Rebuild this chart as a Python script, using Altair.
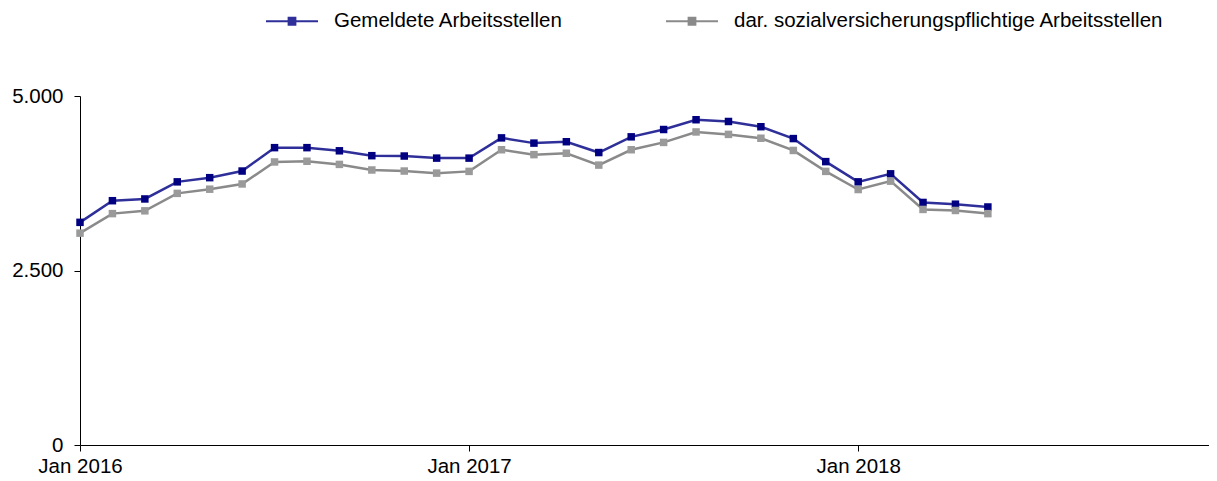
import altair as alt
import pandas as pd

months = [
    "2016-01", "2016-02", "2016-03", "2016-04", "2016-05", "2016-06",
    "2016-07", "2016-08", "2016-09", "2016-10", "2016-11", "2016-12",
    "2017-01", "2017-02", "2017-03", "2017-04", "2017-05", "2017-06",
    "2017-07", "2017-08", "2017-09", "2017-10", "2017-11", "2017-12",
    "2018-01", "2018-02", "2018-03", "2018-04", "2018-05",
]
gemeldet = [
    3190, 3500, 3525, 3770, 3830, 3925, 4260, 4260, 4215, 4145, 4140, 4110,
    4110, 4400, 4325, 4345, 4190, 4415, 4520, 4660, 4635, 4560, 4390, 4060,
    3770, 3885, 3475, 3450, 3410,
]
svp = [
    3035, 3315, 3355, 3605, 3665, 3740, 4055, 4065, 4020, 3940, 3925, 3895,
    3920, 4230, 4160, 4180, 4010, 4230, 4335, 4485, 4450, 4395, 4220, 3920,
    3660, 3780, 3375, 3360, 3315,
]
series_names = ["Gemeldete Arbeitsstellen", "dar. sozialversicherungspflichtige Arbeitsstellen"]
line_colors = ["#2f2f9a", "#8a8a8a"]
marker_colors = ["#000080", "#9a9a9a"]
year_ticks = [0, 12, 24]

rows = []
for name, vals in zip(series_names, [gemeldet, svp]):
    for m, v in zip(months, vals):
        y, mo = m.split("-")
        idx = (int(y) - 2016) * 12 + int(mo) - 1
        rows.append({"idx": idx, "month": m, "value": v, "series": name})
df = pd.DataFrame(rows)

FONT = "Liberation Sans"
FS = 20.5

x = alt.X(
    "idx:Q",
    scale=alt.Scale(domain=[0, 34.82], nice=False, zero=False),
    axis=alt.Axis(
        title=None, values=year_ticks, grid=False,
        labelExpr="'Jan ' + (2016 + datum.value / 12)",
        labelFontSize=FS, labelFont=FONT, labelColor="#000000",
        domainColor="#000000", tickColor="#000000", tickSize=6,
        labelPadding=5, labelFlush=False,
    ),
)
y = alt.Y(
    "value:Q",
    scale=alt.Scale(domain=[0, 5000], nice=False),
    axis=alt.Axis(
        title=None, values=[0, 2500, 5000], grid=False,
        labelExpr="replace(format(datum.value, ','), ',', '.')",
        labelFontSize=FS, labelFont=FONT, labelColor="#000000",
        domainColor="#000000", tickColor="#000000", tickSize=6,
        labelPadding=11,
    ),
)

legend_path = (
    "M-1,0H1"
    "M-0.13,-0.13H0.13V0.13H-0.13Z"
    "M-0.07,-0.07H0.07V0.07H-0.07Z"
)

lines = alt.Chart(df).mark_line(strokeWidth=2.5).encode(
    x=x, y=y,
    color=alt.Color(
        "series:N",
        scale=alt.Scale(domain=series_names, range=line_colors),
        sort=series_names,
        legend=alt.Legend(
            title=None, orient="none", direction="horizontal",
            legendX=185, legendY=-102,
            symbolType=legend_path, symbolSize=2704, symbolStrokeWidth=2,
            labelFontSize=FS, labelFont=FONT, labelColor="#000000",
            labelOffset=15, columnPadding=98, padding=0,
            labelLimit=1000,
        ),
    ),
)

points = alt.Chart(df).mark_point(shape="square", filled=True, size=56, opacity=1).encode(
    x=x, y=y,
    fill=alt.Fill(
        "series:N",
        scale=alt.Scale(domain=series_names, range=marker_colors),
        legend=None,
    ),
)

chart = (
    alt.layer(lines, points)
    .resolve_scale(color="independent", fill="independent")
    .properties(
        width=1129, height=349,
        autosize=alt.AutoSizeParams(type="none"),
        padding={"left": 72, "top": 88, "right": 0, "bottom": 36},
    )
    .configure(font=FONT)
    .configure_view(strokeWidth=0, stroke="transparent")
    .configure_axis(grid=False)
)

chart.save("out.html", embed_options={"renderer": "svg", "actions": False})
